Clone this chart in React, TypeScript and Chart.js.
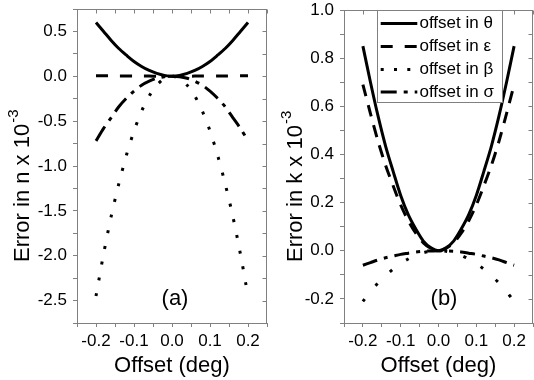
import React, { useEffect, useRef } from 'react';
import { Chart, registerables } from 'chart.js';

Chart.register(...registerables);

const FONT = '"Liberation Sans", Arial, sans-serif';
const FRAME = '#808080';

// Offset (deg)
const offsets = [-0.2, -0.18, -0.16, -0.14, -0.12, -0.1, -0.08, -0.06, -0.04, -0.02, 0, 0.02, 0.04, 0.06, 0.08, 0.1, 0.12, 0.14, 0.16, 0.18, 0.2];

// Panel (a): Error in n x 10^-3
const nTheta = [0.6, 0.5, 0.4, 0.31, 0.235, 0.165, 0.11, 0.065, 0.032, 0.01, 0, 0.01, 0.032, 0.065, 0.11, 0.165, 0.235, 0.31, 0.4, 0.5, 0.6];
const nEpsilon = [0.006, 0.005, 0.005, 0.004, 0.004, 0.003, 0.002, 0.002, 0.001, 0.0, 0, 0.0, 0.001, 0.002, 0.002, 0.003, 0.004, 0.004, 0.005, 0.005, 0.006];
const nBeta = [-2.45, -1.98, -1.56, -1.2, -0.88, -0.61, -0.39, -0.22, -0.1, -0.025, 0, -0.025, -0.1, -0.22, -0.39, -0.61, -0.88, -1.2, -1.56, -1.98, -2.45];
const nSigma = [-0.72, -0.58, -0.46, -0.34, -0.245, -0.165, -0.1, -0.055, -0.022, -0.005, 0, -0.005, -0.022, -0.055, -0.1, -0.165, -0.245, -0.34, -0.46, -0.58, -0.72];

// Panel (b): Error in k x 10^-3
const kTheta = [0.85, 0.7, 0.56, 0.435, 0.33, 0.23, 0.15, 0.09, 0.04, 0.012, 0, 0.012, 0.04, 0.09, 0.15, 0.23, 0.33, 0.435, 0.56, 0.7, 0.85];
const kEpsilon = [0.69, 0.57, 0.455, 0.355, 0.27, 0.19, 0.125, 0.073, 0.033, 0.01, 0, 0.01, 0.033, 0.073, 0.125, 0.19, 0.27, 0.355, 0.455, 0.57, 0.69];
const kBeta = [-0.21, -0.17, -0.134, -0.103, -0.076, -0.053, -0.034, -0.019, -0.008, -0.002, 0, -0.002, -0.008, -0.019, -0.034, -0.053, -0.076, -0.103, -0.134, -0.17, -0.21];
const kSigma = [-0.06, -0.049, -0.038, -0.029, -0.022, -0.015, -0.01, -0.005, -0.002, -0.001, 0, -0.001, -0.002, -0.005, -0.01, -0.015, -0.022, -0.029, -0.038, -0.049, -0.06];

const seriesLabels = ['offset in θ', 'offset in ε', 'offset in β', 'offset in σ'];
const xTitle = 'Offset (deg)';

type PanelCfg = {
  left: number;
  width: number;
  padTop: number;
  padRight: number;
  yWidth: number;
  yMin: number;
  yMax: number;
  yStep: number;
  yLabelEvery: number; // in multiples of step
  yTitle: string;
  yTitleX: number;
  tag: string;
  tagX: number;
  series: number[][];
  dashes: number[][];
  legend: boolean;
};

const legendDashes = [[], [12, 12], [3, 10.3], [16, 7, 4, 7]];

function fmt(v: number) {
  if (Math.abs(v) < 1e-9) return '0.0';
  return v.toFixed(1);
}

function Panel({ cfg }: { cfg: PanelCfg }) {
  const ref = useRef<HTMLCanvasElement>(null);
  useEffect(() => {
    const datasets = cfg.series.map((arr, i) => ({
      label: seriesLabels[i],
      data: offsets.map((x, j) => ({ x, y: arr[j] })),
      borderColor: '#000',
      backgroundColor: '#000',
      borderWidth: 3,
      borderDash: cfg.dashes[i],
      pointRadius: 0,
      fill: false,
      tension: 0.3,
    }));

    const decor = {
      id: 'decor',
      afterDraw(chart: any) {
        const { ctx, chartArea: a, scales } = chart;
        ctx.save();
        // top & right frame with inward ticks
        ctx.strokeStyle = FRAME;
        ctx.lineWidth = 1;
        const top = Math.round(a.top) + 0.5;
        const right = Math.round(a.right) - 0.5;
        ctx.beginPath();
        ctx.moveTo(Math.round(a.left), top);
        ctx.lineTo(right + 0.5, top);
        ctx.moveTo(right, top);
        ctx.lineTo(right, Math.round(a.bottom));
        for (const t of scales.x.ticks) {
          const px = Math.round(scales.x.getPixelForValue(t.value)) + 0.5;
          ctx.moveTo(px, top);
          ctx.lineTo(px, top + 4);
        }
        for (const t of scales.y.ticks) {
          const py = Math.round(scales.y.getPixelForValue(t.value)) + 0.5;
          ctx.moveTo(right, py);
          ctx.lineTo(right - 4, py);
        }
        ctx.stroke();

        ctx.fillStyle = '#000';
        // x title
        ctx.font = `22px ${FONT}`;
        ctx.textAlign = 'center';
        ctx.textBaseline = 'alphabetic';
        ctx.fillText(xTitle, (a.left + a.right) / 2, 372);
        // panel tag
        ctx.fillText(cfg.tag, cfg.tagX, 305);
        // y title with superscript
        ctx.save();
        ctx.translate(cfg.yTitleX, 262);
        ctx.rotate(-Math.PI / 2);
        ctx.textAlign = 'left';
        ctx.font = `22px ${FONT}`;
        ctx.fillText(cfg.yTitle, 0, 0);
        const w = ctx.measureText(cfg.yTitle).width;
        ctx.font = `15px ${FONT}`;
        ctx.fillText('-3', w + 1, -11);
        ctx.restore();

        if (cfg.legend) {
          const bx = 107.5, by = Math.round(a.top) + 0.5, bw = 125, bh = 92;
          ctx.fillStyle = '#fff';
          ctx.fillRect(bx, by, bw, bh);
          ctx.strokeStyle = FRAME;
          ctx.lineWidth = 1;
          ctx.setLineDash([]);
          ctx.strokeRect(bx, by, bw, bh);
          const rows = [23.5, 46.5, 69.5, 92];
          chart.data.datasets.forEach((ds: any, i: number) => {
            const y = rows[i];
            ctx.strokeStyle = '#000';
            ctx.lineWidth = 3;
            ctx.setLineDash(legendDashes[i]);
            ctx.beginPath();
            ctx.moveTo(110.7, y);
            ctx.lineTo(147.3, y);
            ctx.stroke();
            ctx.setLineDash([]);
            ctx.fillStyle = '#000';
            ctx.font = `17px ${FONT}`;
            ctx.textAlign = 'left';
            ctx.textBaseline = 'middle';
            ctx.fillText(ds.label, 149.5, y);
          });
        }
        ctx.restore();
      },
    };

    const tickFont = { family: FONT, size: 17, lineHeight: 1 };
    const chart = new Chart(ref.current as HTMLCanvasElement, {
      type: 'line',
      data: { datasets: datasets as any },
      options: {
        responsive: false,
        animation: false,
        devicePixelRatio: 1,
        layout: { padding: { left: 0, right: cfg.padRight, top: cfg.padTop, bottom: 0 } },
        plugins: { legend: { display: false }, tooltip: { enabled: false } },
        scales: {
          x: {
            type: 'linear',
            position: 'bottom',
            min: -0.25,
            max: 0.25,
            ticks: {
              stepSize: 0.05,
              autoSkip: false,
              maxRotation: 0,
              minRotation: 0,
              padding: 6,
              color: '#000',
              font: tickFont,
              callback: (v: any) => (Math.round(Number(v) * 100) % 10 === 0 ? fmt(Number(v)) : ''),
            },
            grid: { drawOnChartArea: false, drawTicks: true, tickLength: 4, color: FRAME },
            border: { display: true, color: FRAME, width: 1 },
            afterFit: (s: any) => {
              s.height = 57;
              s.paddingLeft = 0;
              s.paddingRight = 0;
            },
          },
          y: {
            type: 'linear',
            position: 'left',
            min: cfg.yMin,
            max: cfg.yMax,
            ticks: {
              stepSize: cfg.yStep,
              autoSkip: false,
              padding: 6,
              color: '#000',
              font: tickFont,
              callback: (v: any) =>
                Math.round(Number(v) / cfg.yStep) % cfg.yLabelEvery === 0 ? fmt(Number(v)) : '',
            },
            grid: { drawOnChartArea: false, drawTicks: true, tickLength: 4, color: FRAME },
            border: { display: true, color: FRAME, width: 1 },
            afterFit: (s: any) => {
              s.width = cfg.yWidth;
              s.paddingTop = 0;
              s.paddingBottom = 0;
            },
          },
        },
      } as any,
      plugins: [decor],
    });
    return () => chart.destroy();
  }, []);
  return (
    <canvas
      ref={ref}
      width={cfg.width}
      height={380}
      style={{ position: 'absolute', left: cfg.left, top: 0, width: cfg.width, height: 380 }}
    />
  );
}

const panelA: PanelCfg = {
  left: 0,
  width: 270,
  padTop: 9,
  padRight: 3,
  yWidth: 77,
  yMin: -2.75,
  yMax: 0.75,
  yStep: 0.25,
  yLabelEvery: 2,
  yTitle: 'Error in n x 10',
  yTitleX: 29,
  tag: '(a)',
  tagX: 175,
  series: [nTheta, nEpsilon, nBeta, nSigma],
  dashes: [[], [12, 12], [3, 13], [17, 7, 4, 7]],
  legend: false,
};

const panelB: PanelCfg = {
  left: 270,
  width: 264,
  padTop: 10,
  padRight: 1,
  yWidth: 74,
  yMin: -0.3,
  yMax: 1.0,
  yStep: 0.1,
  yLabelEvery: 2,
  yTitle: 'Error in k x 10',
  yTitleX: 32,
  tag: '(b)',
  tagX: 174,
  series: [kTheta, kEpsilon, kBeta, kSigma],
  dashes: [[], [12, 9], [3, 17], [15, 7, 4, 7]],
  legend: true,
};

export default function App() {
  return (
    <div style={{ position: 'absolute', left: 0, top: 0, width: 534, height: 380, background: '#fff', overflow: 'hidden' }}>
      <Panel cfg={panelA} />
      <Panel cfg={panelB} />
    </div>
  );
}
